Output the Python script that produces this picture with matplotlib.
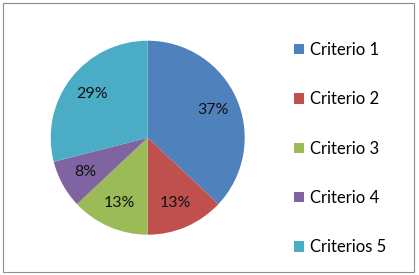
import matplotlib.pyplot as plt
from matplotlib.patches import Rectangle

plt.rcParams['font.family'] = ['Lato', 'DejaVu Sans']

labels = ['Criterio 1', 'Criterio 2', 'Criterio 3', 'Criterio 4', 'Criterios 5']
values = [37, 13, 13, 8, 29]
colors = ['#4F81BD', '#C0504D', '#9BBB59', '#8064A2', '#4BACC6']

W, H = 419, 275
fig = plt.figure(figsize=(W / 100, H / 100), dpi=100)

# pie centre ~ (148, 138) px, radius ~97 px
cx, cy, r = 147.7, 137.7, 97
ax = fig.add_axes([(cx - r) / W, (H - cy - r) / H, 2 * r / W, 2 * r / H])
wedges, texts, autotexts = ax.pie(values, colors=colors, startangle=90, counterclock=False,
                                  autopct='%.0f%%', pctdistance=0.73, radius=1,
                                  wedgeprops={'linewidth': 0},
                                  textprops={'fontsize': 11.5, 'color': '#111111'})
ax.set_xlim(-1, 1)
ax.set_ylim(-1, 1)

fig.legend(wedges, labels, loc='upper left', bbox_to_anchor=(294 / W, 1 - 42 / H),
           frameon=False, fontsize=12, handlelength=0.58, handleheight=0.58,
           handletextpad=0.38, labelspacing=2.0, borderpad=0, borderaxespad=0)

# chart border
fig.patches.append(Rectangle((3 / W, 3 / H), 411 / W, 269 / H, transform=fig.transFigure,
                             fill=False, edgecolor='#8c8c8c', linewidth=0.8))

fig.savefig('out.png', dpi=100)
